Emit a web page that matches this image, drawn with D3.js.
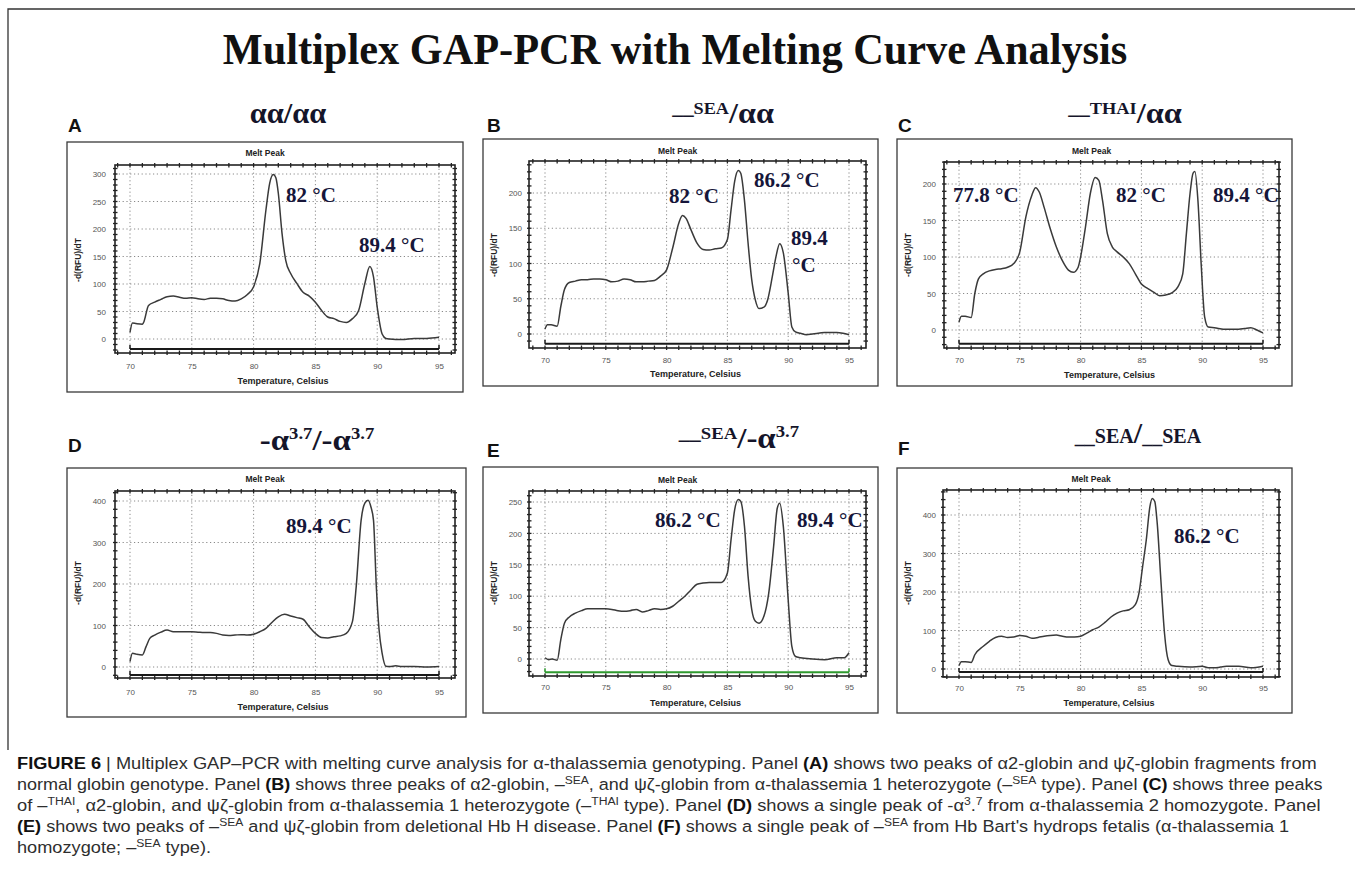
<!DOCTYPE html>
<html><head><meta charset="utf-8">
<script src="https://cdn.jsdelivr.net/npm/d3@7"></script>
<style>body{margin:0;background:#fff}svg{display:block}</style>
</head><body>
<svg id="c" width="1355" height="880"></svg>
<script>
// ---------------- DATA ----------------
const xTicks = [70, 75, 80, 85, 90, 95];
const yTicksA = [0, 50, 100, 150, 200, 250, 300];
const yTicksB = [0, 50, 100, 150, 200];
const yTicksC = [0, 50, 100, 150, 200];
const yTicksD = [0, 100, 200, 300, 400];
const yTicksE = [0, 50, 100, 150, 200, 250];
const yTicksF = [0, 100, 200, 300, 400];

const tempA = [70,70.2,70.5,71,71.1,71.5,72,72.5,73,73.5,74,74.5,75,75.5,76,76.5,77,77.5,78,78.5,79,79.5,80,80.5,81,81.3,81.6,81.8,82,82.3,82.6,83,83.5,84,84.5,85,85.5,86,86.5,87,87.5,88,88.5,89,89.4,89.7,90,90.4,90.7,91,92,93,94,95];
const rfuA  = [12,29,28,27,30,61,67,72,77,78,76,74,75,73,72,74,74,73,70,69,73,81,95,137,235,283,299,293,265,192,143,119,101,85,78,67,52,40,37,32,30,37,52,101,132,113,58,9,1,0,-1,1,1,3];

const tempB = [70,70.2,70.5,71,71.3,71.6,72,72.5,73,73.5,74,74.5,75,75.5,76,76.5,77,77.5,78,78.5,79,79.5,80,80.5,81,81.3,81.6,82,82.5,83,83.5,84,84.5,85,85.3,85.6,85.9,86.1,86.4,86.7,87,87.3,87.6,88,88.3,88.7,89,89.3,89.6,90,90.3,90.6,91,91.5,92,93,94,94.5,95];
const rfuB  = [7,13,13,11,39,63,73,75,77,77,78,78,77,74,75,78,77,74,74,75,76,82,91,122,157,168,164,148,129,120,119,121,122,134,176,217,232,228,190,129,77,48,36,38,48,82,110,128,115,58,10,3,1,-1,0,2,2,1,-1];

const tempC = [70,70.2,70.5,71,71.3,71.6,72,72.5,73,73.5,74,74.5,75,75.5,76,76.3,76.6,77,77.5,78,78.5,79,79.4,79.8,80,80.4,80.8,81.2,81.5,81.8,82.2,82.6,83,83.5,84,84.5,85,85.5,86,86.5,87,87.5,88,88.4,88.7,89,89.25,89.4,89.65,89.93,90.2,90.5,91,92,93,93.5,94,94.5,95];
const rfuC  = [11,19,19,17,50,70,77,81,83,84,86,91,107,155,185,195,189,168,139,114,95,82,79,86,100,141,187,209,205,178,132,114,107,100,91,77,63,57,52,47,48,51,59,77,132,187,215,217,177,86,18,4,3,1,1,2,3,0,-4];

const tempD = [70,70.2,70.5,71,71.3,71.6,72,72.5,73,73.5,74,75,75.5,76,76.5,77,77.5,78,78.5,79,79.5,80,80.5,81,81.5,82,82.5,83,83.5,84,84.5,85,85.5,86,86.5,87,87.5,88,88.3,88.7,89,89.26,89.5,89.7,89.93,90.15,90.4,90.7,91,91.5,92,93,94,95];
const rfuD  = [13,33,31,29,49,69,77,84,89,85,85,85,84,83,83,81,77,76,77,78,77,79,85,93,108,121,127,123,119,115,97,81,71,70,73,75,81,110,193,354,395,402,385,354,193,90,33,2,1,3,1,1,0,1];

const tempE = [70,70.3,70.6,71,71.3,71.6,72,72.5,73,73.5,74,74.5,75,75.5,76,76.5,77,77.5,78,78.5,79,79.5,80,80.5,81,81.5,82,82.5,83,83.5,84,84.5,85,85.3,85.6,85.9,86.1,86.4,86.7,87,87.3,87.6,88,88.4,88.8,89.1,89.3,89.6,90,90.3,90.6,91,92,93,94,94.6,95];
const rfuE  = [2,-1,0,-2,31,57,67,73,77,80,80,80,80,79,77,76,77,79,75,77,80,79,80,84,92,100,110,119,121,122,122,122,137,190,238,254,251,212,132,79,60,57,68,105,179,240,248,211,94,20,4,2,0,-1,2,2,10];

const tempF = [70,70.2,70.5,71,71.3,72,72.5,73,73.5,74,74.5,75,75.5,76,76.5,77,77.5,78,78.5,79,79.5,80,80.5,81,81.5,82,82.5,83,83.5,84,84.5,84.8,85.1,85.4,85.7,85.9,86.1,86.3,86.6,86.9,87.2,87.5,88,89,90,90.5,91,91.5,92,93,94,95];
const rfuF  = [9,19,19,17,37,59,72,82,85,82,83,87,85,80,82,85,87,88,85,83,83,85,93,102,109,121,135,145,151,154,167,197,266,335,422,443,435,379,232,93,24,9,7,5,7,3,3,5,7,7,3,7];

// baseline (threshold) bar value of each panel
const baselineVals = {A: -18, B: -14, C: -19, D: -19, E: -21, F: -8};

const peakLabelsA = ["82 °C", "89.4 °C"];
const peakLabelsB = ["82 °C", "86.2 °C", "89.4", "°C"];
const peakLabelsC = ["77.8 °C", "82 °C", "89.4 °C"];
const peakLabelsD = ["89.4 °C"];
const peakLabelsE = ["86.2 °C", "89.4 °C"];
const peakLabelsF = ["86.2 °C"];

const mainTitle = "Multiplex GAP-PCR with Melting Curve Analysis";
const plotTitle = "Melt Peak";
const xAxisTitle = "Temperature, Celsius";
const yAxisTitle = "-d(RFU)/dT";

// panel titles (rich text: up = superscript)
const panelTitles = {
  A: [{t: "αα/αα"}],
  B: [{t: "__", s: "u", up: 9}, {t: "SEA", s: "sup", up: 9}, {t: "/αα"}],
  C: [{t: "__", s: "u", up: 9}, {t: "THAI", s: "sup", up: 9}, {t: "/αα"}],
  D: [{t: "-α"}, {t: "3.7", s: "sup", up: 11}, {t: "/-α"}, {t: "3.7", s: "sup", up: 11}],
  E: [{t: "__", s: "u", up: 9}, {t: "SEA", s: "sup", up: 9}, {t: "/-α"}, {t: "3.7", s: "sup", up: 11}],
  F: [{t: "__", s: "u"}, {t: "SEA", s: "cap"}, {t: "/"}, {t: "__", s: "u"}, {t: "SEA", s: "cap"}]
};

const captionLines = [
  [{t: "FIGURE 6", b: 1}, " | Multiplex GAP–PCR with melting curve analysis for α-thalassemia genotyping. Panel ", {t: "(A)", b: 1}, " shows two peaks of α2-globin and ψζ-globin fragments from"],
  ["normal globin genotype. Panel ", {t: "(B)", b: 1}, " shows three peaks of α2-globin, –", {t: "SEA", up: 1}, ", and ψζ-globin from α-thalassemia 1 heterozygote (–", {t: "SEA", up: 1}, " type). Panel ", {t: "(C)", b: 1}, " shows three peaks"],
  ["of –", {t: "THAI", up: 1}, ", α2-globin, and ψζ-globin from α-thalassemia 1 heterozygote (–", {t: "THAI", up: 1}, " type). Panel ", {t: "(D)", b: 1}, " shows a single peak of -α", {t: "3", up: 1}, ".", {t: "7", up: 1}, " from α-thalassemia 2 homozygote. Panel"],
  [{t: "(E)", b: 1}, " shows two peaks of –", {t: "SEA", up: 1}, " and ψζ-globin from deletional Hb H disease. Panel ", {t: "(F)", b: 1}, " shows a single peak of –", {t: "SEA", up: 1}, " from Hb Bart's hydrops fetalis (α-thalassemia 1"],
  ["homozygote; –", {t: "SEA", up: 1}, " type)."]
];

// ---------------- LAYOUT ----------------
const panels = [
  {id: "A", temp: tempA, rfu: rfuA, yTicks: yTicksA, labels: peakLabelsA,
   box: [67, 142, 463, 392], frame: [115, 165, 455, 353], xr: [130, 439], yv: [0, 300], yr: [339, 174],
   melt: 156, tickY: 369, xTitle: 384, yTitle: [81, 260], yLab: 106, letter: [68, 132], title: [288, 123, 77],
   ann: [[286, 202], [359, 252]]},
  {id: "B", temp: tempB, rfu: rfuB, yTicks: yTicksB, labels: peakLabelsB,
   box: [483, 139, 878, 386], frame: [529, 161, 866, 348], xr: [545, 849], yv: [0, 200], yr: [334, 193],
   melt: 154, tickY: 363, xTitle: 377, yTitle: [497, 255], yLab: 522, letter: [487, 132], title: [723, 123, 103],
   ann: [[669, 203], [754, 187], [791, 245], [792, 272]]},
  {id: "C", temp: tempC, rfu: rfuC, yTicks: yTicksC, labels: peakLabelsC,
   box: [897, 139, 1292, 386], frame: [944, 162, 1279, 348], xr: [959, 1263], yv: [0, 200], yr: [330, 184],
   melt: 154, tickY: 363, xTitle: 378, yTitle: [911, 255], yLab: 936, letter: [898, 132], title: [1125, 123, 115],
   ann: [[953, 202], [1116, 202], [1213, 202]]},
  {id: "D", temp: tempD, rfu: rfuD, yTicks: yTicksD, labels: peakLabelsD,
   box: [67, 468, 466, 717], frame: [115, 491, 455, 678], xr: [130, 439], yv: [0, 400], yr: [667, 501],
   melt: 482, tickY: 695, xTitle: 710, yTitle: [81, 583], yLab: 106, letter: [68, 452], title: [317, 450, 115],
   ann: [[286, 533]]},
  {id: "E", temp: tempE, rfu: rfuE, yTicks: yTicksE, labels: peakLabelsE,
   box: [483, 467, 878, 713], frame: [529, 491, 866, 676], xr: [545, 849], yv: [0, 250], yr: [659, 502],
   melt: 483, tickY: 690, xTitle: 706, yTitle: [497, 583], yLab: 522, letter: [487, 457], title: [739, 448, 122],
   ann: [[655, 527], [797, 527]]},
  {id: "F", temp: tempF, rfu: rfuF, yTicks: yTicksF, labels: peakLabelsF,
   box: [897, 468, 1292, 713], frame: [943, 490, 1279, 677], xr: [959, 1263], yv: [0, 400], yr: [669, 515],
   melt: 482, tickY: 691, xTitle: 706, yTitle: [911, 583], yLab: 936, letter: [898, 455], title: [1138, 443, 128],
   ann: [[1174, 543]]}
];

const SERIF = "'Liberation Serif','Times New Roman',serif";
const SANS = "'Liberation Sans',Arial,sans-serif";
const svg = d3.select("#c");

svg.append("rect").attr("width", 1355).attr("height", 880).attr("fill", "#fff");

// outer figure frame (left + top)
svg.append("path").attr("d", "M8,750 L8,9 L1355,9").attr("fill", "none").attr("stroke", "#333").attr("stroke-width", 1.3);

function fitX(sel, x, y, target) {
  const w = sel.node().getBBox().width;
  const s = target / w;
  sel.attr("x", 0).attr("y", 0).attr("transform", `translate(${x},${y}) scale(${s},1)`);
  return s;
}

// main title
const mt = svg.append("text").attr("text-anchor", "middle").attr("font-family", SERIF)
  .attr("font-weight", "bold").attr("font-size", 45).attr("fill", "#111").text(mainTitle);
fitX(mt, 675, 64, 905);

const line = (x, y) => d3.line().x(d => x(d[0])).y(d => y(d[1])).curve(d3.curveMonotoneX);

panels.forEach(p => {
  const g = svg.append("g");
  const x = d3.scaleLinear().domain([70, 95]).range(p.xr);
  const y = d3.scaleLinear().domain(p.yv).range(p.yr);
  const [fx0, fy0, fx1, fy1] = p.frame;

  // outer panel box
  g.append("rect").attr("x", p.box[0]).attr("y", p.box[1]).attr("width", p.box[2] - p.box[0]).attr("height", p.box[3] - p.box[1])
    .attr("fill", "#fff").attr("stroke", "#3a3a3a").attr("stroke-width", 1.3);

  // panel letter
  g.append("text").attr("x", p.letter[0]).attr("y", p.letter[1]).attr("font-family", SANS).attr("font-weight", "bold")
    .attr("font-size", 19).attr("fill", "#111").text(p.id);

  // panel title (rich)
  const tt = g.append("text").attr("text-anchor", "middle").attr("font-family", SERIF).attr("font-weight", "bold")
    .attr("fill", "#15152a");
  let cur = 0;
  panelTitles[p.id].forEach(s => {
    const up = s.up || 0;
    const ts = tt.append("tspan").attr("dy", cur - up).text(s.t);
    cur = up;
    if (s.s === "sup") ts.attr("font-size", 17);
    else if (s.s === "u") ts.attr("font-size", 20);
    else if (s.s === "cap") ts.attr("font-size", 20);
    else ts.attr("font-size", 30);
  });
  fitX(tt, p.title[0], p.title[1], p.title[2]);

  // "Melt Peak"
  g.append("text").attr("x", (fx0 + fx1) / 2 - 20).attr("y", p.melt).attr("text-anchor", "middle").attr("font-family", SANS)
    .attr("font-weight", "bold").attr("font-size", 8.5).attr("fill", "#222").text(plotTitle);

  // grid
  const xmin = x.invert(fx0), xmax = x.invert(fx1), ymin = y.invert(fy1), ymax = y.invert(fy0);
  g.append("g").selectAll("line").data(xTicks).join("line")
    .attr("x1", d => x(d)).attr("x2", d => x(d)).attr("y1", fy0).attr("y2", fy1)
    .attr("stroke", "#8a8a8a").attr("stroke-width", 1).attr("stroke-dasharray", "1.2,2.6");
  g.append("g").selectAll("line").data(p.yTicks).join("line")
    .attr("y1", d => y(d)).attr("y2", d => y(d)).attr("x1", fx0).attr("x2", fx1)
    .attr("stroke", "#8a8a8a").attr("stroke-width", 1).attr("stroke-dasharray", "1.2,2.6");

  // plot frame
  g.append("rect").attr("x", fx0).attr("y", fy0).attr("width", fx1 - fx0).attr("height", fy1 - fy0)
    .attr("fill", "none").attr("stroke", "#222").attr("stroke-width", 1.6);

  // minor ticks on all 4 sides
  const xMinor = d3.range(Math.ceil(xmin), Math.floor(xmax) + 1, 1);
  const yStep = p.yTicks[1] / 5;
  const yMinor = d3.range(Math.ceil(ymin / yStep) * yStep, ymax, yStep);
  const tk = g.append("g").attr("stroke", "#222").attr("stroke-width", 1.3);
  xMinor.forEach(v => {
    tk.append("line").attr("x1", x(v)).attr("x2", x(v)).attr("y1", fy1 - 2.5).attr("y2", fy1 + 2);
    tk.append("line").attr("x1", x(v)).attr("x2", x(v)).attr("y1", fy0 - 2).attr("y2", fy0 + 2.5);
  });
  yMinor.forEach(v => {
    tk.append("line").attr("y1", y(v)).attr("y2", y(v)).attr("x1", fx0 - 2).attr("x2", fx0 + 2.5);
    tk.append("line").attr("y1", y(v)).attr("y2", y(v)).attr("x1", fx1 - 2.5).attr("x2", fx1 + 2);
  });

  // baseline bar
  const bv = baselineVals[p.id];
  const bc = p.id === "E" ? "#2f9a2f" : "#1a1a1a";
  g.append("line").attr("x1", x(70)).attr("x2", x(95)).attr("y1", y(bv)).attr("y2", y(bv))
    .attr("stroke", bc).attr("stroke-width", 2);
  [70, 95].forEach(v => g.append("line").attr("x1", x(v)).attr("x2", x(v)).attr("y1", y(bv) - 4).attr("y2", y(bv))
    .attr("stroke", bc).attr("stroke-width", 1.5));

  // axes labels via d3 axes
  const ax = g.append("g").attr("transform", `translate(0,${p.tickY})`)
    .call(d3.axisBottom(x).tickValues(xTicks).tickSize(0).tickFormat(d3.format("d")));
  ax.select(".domain").remove();
  ax.selectAll("text").attr("y", 0).attr("dy", 0).attr("font-family", SANS).attr("font-size", 8).attr("fill", "#555");
  const ay = g.append("g").attr("transform", `translate(${p.yLab},0)`)
    .call(d3.axisLeft(y).tickValues(p.yTicks).tickSize(0).tickFormat(d3.format("d")));
  ay.select(".domain").remove();
  ay.selectAll("text").attr("x", 0).attr("dy", "0.33em").attr("font-family", SANS).attr("font-size", 8).attr("fill", "#555");

  g.append("text").attr("x", (fx0 + fx1) / 2 - 2).attr("y", p.xTitle).attr("text-anchor", "middle").attr("font-family", SANS)
    .attr("font-weight", "bold").attr("font-size", 9).attr("fill", "#222").text(xAxisTitle);
  g.append("text").attr("transform", `translate(${p.yTitle[0]},${p.yTitle[1]}) rotate(-90)`).attr("text-anchor", "middle")
    .attr("font-family", SANS).attr("font-weight", "bold").attr("font-size", 8.5).attr("fill", "#222").text(yAxisTitle);

  // curve
  const pts = p.temp.map((t, i) => [t, p.rfu[i]]);
  g.append("path").datum(pts).attr("d", line(x, y)).attr("fill", "none").attr("stroke", "#3a3a3a").attr("stroke-width", 1.5);

  // peak annotations
  p.labels.forEach((lab, i) => {
    g.append("text").attr("x", p.ann[i][0]).attr("y", p.ann[i][1]).attr("font-family", SERIF).attr("font-weight", "bold")
      .attr("font-size", 21).attr("fill", "#16163a").text(lab);
  });
});

// caption
const capTargets = [1318, 1323, 1322, 1290, null];
const capY = [769, 790, 811, 832, 853];
let scales = [];
captionLines.forEach((segs, li) => {
  const t = svg.append("text").attr("font-family", SANS).attr("font-size", 16.5).attr("fill", "#2e2e2e");
  let cur = 0;
  segs.forEach(s => {
    const o = typeof s === "string" ? {t: s} : s;
    const up = o.up ? 6.5 : 0;
    const ts = t.append("tspan").attr("dy", cur - up).text(o.t);
    cur = up;
    if (o.b) ts.attr("font-weight", "bold").attr("fill", "#111");
    if (o.up) ts.attr("font-size", 11);
  });
  if (capTargets[li]) {
    scales.push(fitX(t, 17, capY[li], capTargets[li] - 17));
  } else {
    const s = d3.mean(scales.slice(0, 3));
    t.attr("x", 0).attr("y", 0).attr("transform", `translate(17,${capY[li]}) scale(${s},1)`);
  }
});
</script>
</body></html>
